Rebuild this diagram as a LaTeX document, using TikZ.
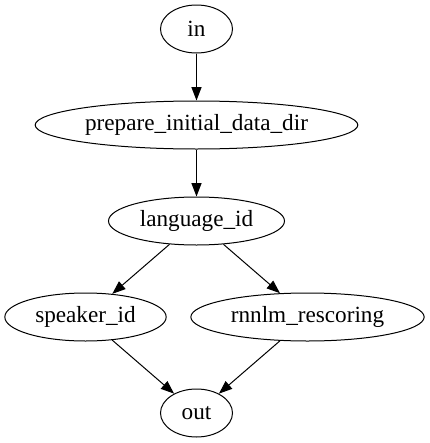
\documentclass[tikz,border=0pt]{standalone}
\usepackage{fontspec}
\setmainfont{Liberation Serif}
\usetikzlibrary{shapes.geometric,arrows.meta,positioning}
\tikzset{stagenode/.style={draw, ellipse, line width=0.75pt, inner sep=0pt,
		minimum height=36pt, font=\fontsize{17.4pt}{20pt}\selectfont},
	flow/.style={-{Triangle[length=10pt,width=7.5pt]}, line width=0.75pt}}

\begin{document}
\begin{tikzpicture}[x=0.75pt, y=-0.75pt]
				
					\useasboundingbox (0,0) rectangle (429,443);
					
					\node[stagenode, minimum width=54pt] (in) at (196.5,29) {in};
					\node[stagenode, minimum width=242pt] (prep) at (196.5,125) {prepare\_initial\_data\_dir};
					\node[stagenode, minimum width=132pt] (langid) at (196.5,221) {language\_id};
					\node[stagenode, minimum width=121pt] (spkid) at (85.5,317) {speaker\_id};
					\node[stagenode, minimum width=175pt] (rnnlm) at (307.5,317) {rnnlm\_rescoring};
					\node[stagenode, minimum width=54pt] (out) at (196.5,413) {out};
					
					\draw[flow] (in) -- (prep);
					\draw[flow] (prep) -- (langid);
					\draw[flow] (langid) -- (spkid);
					\draw[flow] (langid) -- (rnnlm);
					\draw[flow] (spkid) -- (out);
					\draw[flow] (rnnlm) -- (out);
										
				\end{tikzpicture}
\end{document}
